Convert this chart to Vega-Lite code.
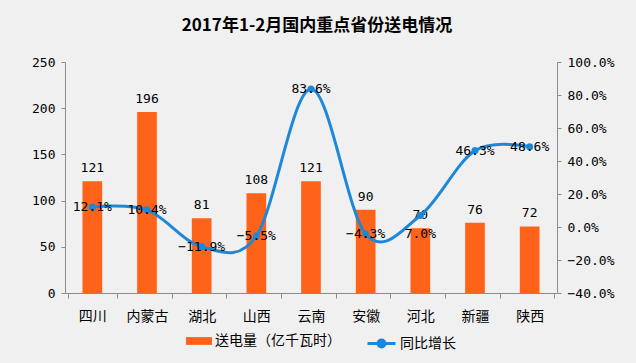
{
  "$schema": "https://vega.github.io/schema/vega-lite/v6.json",
  "autosize": "none",
  "width": 492,
  "height": 231,
  "padding": {"left": 65, "top": 62, "right": 79, "bottom": 70},
  "background": "#f0f0f0",
  "config": {
    "view": {"stroke": null},
    "axis": {"grid": false, "domainColor": "#8c8c8c", "tickColor": "#8c8c8c", "tickSize": 5, "labelColor": "#000000", "labelFont": "DejaVu Sans Mono", "labelFontSize": 13, "titleFontSize": 0},
    "legend": {"labelFont": "Noto Sans CJK SC", "labelFontSize": 14, "labelColor": "#000000"}
  },
  "title": {"text": "2017年1-2月国内重点省份送电情况", "font": "Noto Sans CJK SC", "fontSize": 17, "fontWeight": "bold", "color": "#000000", "anchor": "middle", "offset": 21, "dx": 6},
  "data": {
    "values": [
      {"province": "四川", "amount": 121, "growth": 12.1},
      {"province": "内蒙古", "amount": 196, "growth": 10.4},
      {"province": "湖北", "amount": 81, "growth": -11.9},
      {"province": "山西", "amount": 108, "growth": -5.5},
      {"province": "云南", "amount": 121, "growth": 83.6},
      {"province": "安徽", "amount": 90, "growth": -4.3},
      {"province": "河北", "amount": 70, "growth": 7.0},
      {"province": "新疆", "amount": 76, "growth": 46.3},
      {"province": "陕西", "amount": 72, "growth": 48.6}
    ]
  },
  "transform": [{"calculate": "format(datum.growth, '.1f') + '%'", "as": "growthLabel"}],
  "encoding": {
    "x": {"field": "province", "type": "nominal", "sort": null,
      "axis": {"title": null, "labelAngle": 0, "labelFont": "Noto Sans CJK SC", "labelFontSize": 14, "labelPadding": 11, "tickBand": "extent"}}
  },
  "layer": [
    {
      "encoding": {
        "y": {"field": "amount", "type": "quantitative", "scale": {"domain": [0, 250]},
          "axis": {"title": null, "values": [0, 50, 100, 150, 200, 250], "labelPadding": 6, "tickSize": 4}}
      },
      "layer": [
        {"mark": {"type": "bar", "width": {"band": 0.4}},
          "encoding": {"fill": {"datum": "送电量（亿千瓦时）", "scale": {"range": ["#ff6319"]},
            "legend": {"title": null, "orient": "none", "legendX": 121, "legendY": 266, "symbolType": "M-1,-0.3H1V0.3H-1Z", "symbolSize": 676, "symbolStrokeWidth": 0, "labelOffset": 3}}}},
        {"mark": {"type": "text", "font": "DejaVu Sans Mono", "fontSize": 13, "baseline": "alphabetic", "dy": -9, "color": "#000000"},
          "encoding": {"text": {"field": "amount", "type": "quantitative"}}}
      ]
    },
    {
      "encoding": {
        "y": {"field": "growth", "type": "quantitative", "scale": {"domain": [-40, 100]},
          "axis": {"title": null, "orient": "right", "values": [-40, -20, 0, 20, 40, 60, 80, 100], "labelExpr": "format(datum.value, '.1f') + '%'", "labelPadding": 6, "tickSize": 4}}
      },
      "layer": [
        {"mark": {"type": "line", "interpolate": "cardinal", "tension": 0, "strokeWidth": 3},
          "encoding": {"stroke": {"datum": "同比增长", "scale": {"range": ["#1e88d8"]},
            "legend": {"title": null, "orient": "none", "legendX": 301, "legendY": 266, "symbolType": "M-1,0H1M0.25,0A0.25,0.25 0 1,1 -0.25,0A0.25,0.25 0 1,1 0.25,0Z", "symbolSize": 784, "symbolStrokeWidth": 3, "symbolFillColor": "#1e88d8", "labelOffset": 3}}}},
        {"mark": {"type": "point", "filled": true, "size": 50, "opacity": 1, "color": "#1e88d8"}},
        {"transform": [{"filter": "datum.province !== '河北'"}],
          "mark": {"type": "text", "font": "DejaVu Sans Mono", "fontSize": 13, "baseline": "middle", "color": "#000000"},
          "encoding": {"text": {"field": "growthLabel", "type": "nominal"}}},
        {"transform": [{"filter": "datum.province === '河北'"}],
          "mark": {"type": "text", "font": "DejaVu Sans Mono", "fontSize": 13, "baseline": "middle", "dy": 19, "color": "#000000"},
          "encoding": {"text": {"field": "growthLabel", "type": "nominal"}}}
      ]
    }
  ],
  "resolve": {"scale": {"y": "independent", "fill": "independent", "stroke": "independent"}}
}
